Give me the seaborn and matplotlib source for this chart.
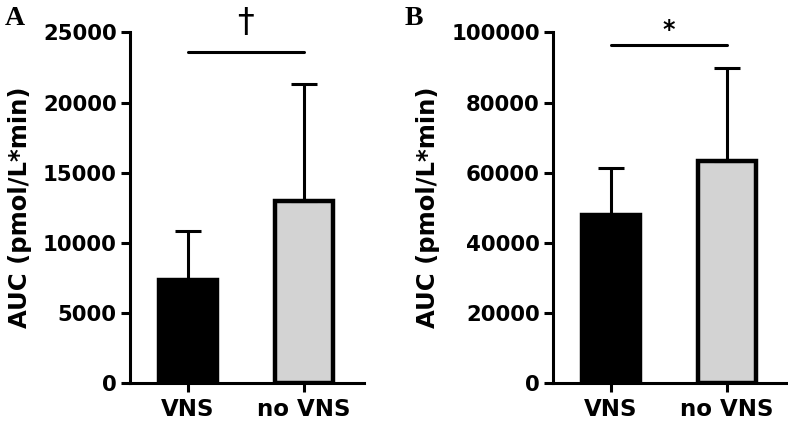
import matplotlib
matplotlib.use("Agg")
import matplotlib.pyplot as plt
import seaborn as sns
import numpy as np

categories = ["VNS", "no VNS"]
auc_a = [7350, 12950]
sd_a = [3500, 8400]
auc_b = [48000, 63400]
sd_b = [13400, 26600]
yticks_a = [0, 5000, 10000, 15000, 20000, 25000]
yticks_b = [0, 20000, 40000, 60000, 80000, 100000]
sig_a = "\u2020"
sig_b = "*"
bar_colors = ["#000000", "#d3d3d3"]

sns.set_theme(style="ticks")
plt.rcParams['font.family'] = ['DejaVu Sans']
plt.rcParams['font.weight'] = 'bold'
plt.rcParams['text.color'] = 'black'
plt.rcParams['axes.labelcolor'] = 'black'
plt.rcParams['axes.edgecolor'] = 'black'

fig = plt.figure(figsize=(7.88, 4.22), dpi=100)
axA = fig.add_axes([130/788, 1-383/422, (364-130)/788, (383-32.5)/422])
axB = fig.add_axes([553/788, 1-383/422, (787-553)/788, (383-32.5)/422])

def draw(ax, vals, sds, yticks, sig, sig_y, sym_y, sym_size, sym_weight):
    sns.barplot(x=categories, y=vals, hue=categories, palette=bar_colors,
                edgecolor="black", linewidth=3.2, width=0.5, ax=ax,
                legend=False, saturation=1)
    ax.errorbar(range(len(vals)), vals, yerr=[np.zeros(len(vals)), sds],
                fmt="none", ecolor="black", elinewidth=2.2, capsize=9.5,
                capthick=2.2, zorder=1)
    ax.set_xlim(-0.5, 1.52)
    ax.set_ylim(yticks[0], yticks[-1])
    ax.set_yticks(yticks)
    ax.set_yticklabels([str(t) for t in yticks])
    for s in ["top", "right"]:
        ax.spines[s].set_visible(False)
    for s in ["left", "bottom"]:
        ax.spines[s].set_linewidth(2.2)
        ax.spines[s].set_color("black")
    ax.tick_params(axis="y", width=2.2, length=6.5, labelsize=15.3,
                   colors="black", pad=3)
    ax.tick_params(axis="x", width=2.2, length=6.5, labelsize=16.5,
                   colors="black", pad=4)
    for t in ax.get_xticklabels() + ax.get_yticklabels():
        t.set_fontweight("bold")
    ax.set_ylabel("AUC (pmol/L*min)", fontsize=17.5, fontweight="bold",
                  labelpad=8, color="black")
    ax.set_xlabel("")
    ax.plot([0, 1], [sig_y, sig_y], color="black", lw=2.2, clip_on=False)
    ax.text(0.5, sym_y, sig, ha="center", va="center", color="black",
            fontsize=sym_size, fontweight=sym_weight, clip_on=False)
    return ax

draw(axA, auc_a, sd_a, yticks_a, sig_a, 23600, 25700, 24, "normal")
draw(axB, auc_b, sd_b, yticks_b, sig_b, 96500, 100600, 17, "bold")

fig.text(5/788, 1-25/422, "A", fontsize=20, fontweight="bold", family="Liberation Serif")
fig.text(405/788, 1-25/422, "B", fontsize=20, fontweight="bold", family="Liberation Serif")

fig.savefig("out.png", dpi=100)
